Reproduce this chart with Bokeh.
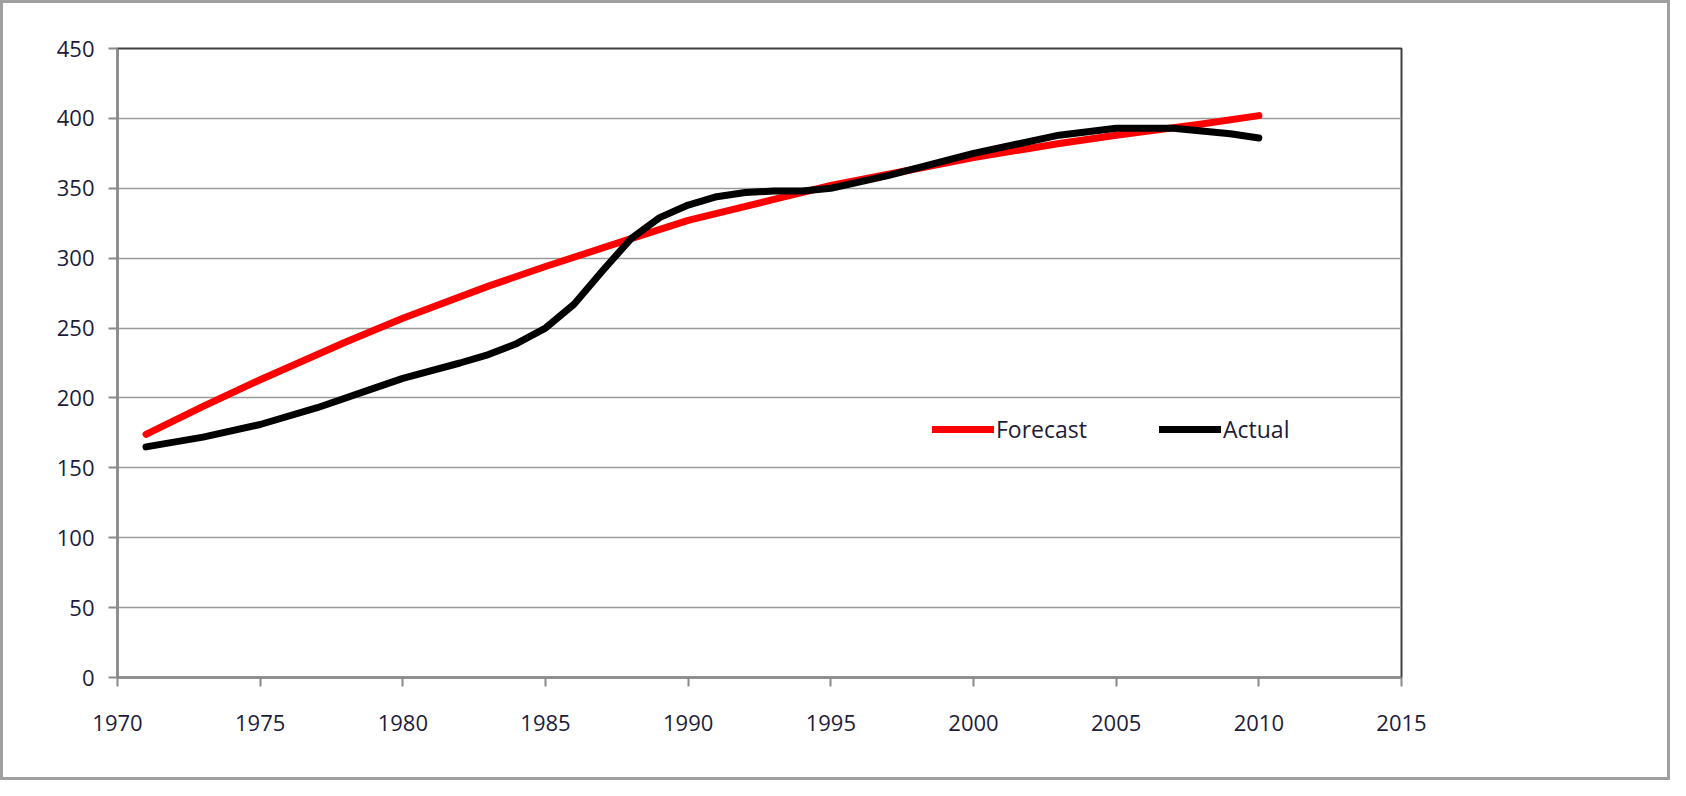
from bokeh.plotting import figure
from bokeh.embed import file_html
from bokeh.resources import INLINE
from bokeh.models import Legend, Range1d, SingleIntervalTicker

forecast_years = [1971, 1973, 1975, 1978, 1980, 1983, 1985, 1988, 1990, 1993, 1995, 1998, 2000, 2003, 2005, 2008, 2010]
forecast_vals = [174, 194, 213, 240, 257, 280, 294, 314, 327, 342, 352, 364, 372, 382, 388, 396, 402]

actual_years = [1971, 1973, 1975, 1977, 1979, 1980, 1982, 1983, 1984, 1985, 1986, 1987, 1988, 1989, 1990, 1991, 1992, 1993, 1994, 1995, 1997, 2000, 2003, 2005, 2007, 2009, 2010]
actual_vals = [165, 172, 181, 193, 207, 214, 225, 231, 239, 250, 267, 291, 314, 329, 338, 344, 347, 348, 348, 350, 359, 375, 388, 393, 393, 389, 386]

FONT = "Open Sans"
TXT = "#1c1c3a"

p = figure(width=1670, height=780, output_backend="svg", toolbar_location=None,
           x_range=Range1d(1970, 2015), y_range=Range1d(0, 450),
           min_border_left=114, min_border_top=45, min_border_right=272, min_border_bottom=106)
p.styles = {"border": "3px solid #a0a0a0", "box-sizing": "border-box"}

p.xaxis.ticker = SingleIntervalTicker(interval=5)
p.yaxis.ticker = SingleIntervalTicker(interval=50)
p.xgrid.visible = False
p.ygrid.grid_line_color = "#9a9a9a"
p.ygrid.grid_line_width = 1.5
p.outline_line_color = "#404040"
p.outline_line_width = 2

for ax in (p.xaxis, p.yaxis):
    ax.axis_line_color = "#8a8a8a"
    ax.axis_line_width = 2
    ax.major_tick_line_color = "#8a8a8a"
    ax.major_tick_line_width = 2
    ax.major_tick_out = 9
    ax.major_tick_in = 0
    ax.minor_tick_line_color = None
    ax.major_label_text_font = FONT
    ax.major_label_text_font_size = "22px"
    ax.major_label_text_color = TXT
p.xaxis.major_label_standoff = 28
p.yaxis.major_label_standoff = 14

r1 = p.line(forecast_years, forecast_vals, line_color="#ff0000", line_width=7, line_join="round", line_cap="round")
r2 = p.line(actual_years, actual_vals, line_color="#000000", line_width=7, line_join="round", line_cap="round")

legend = Legend(items=[("Forecast", [r1]), ("Actual", [r2])], orientation="horizontal",
                location=(815, 232), border_line_color=None, background_fill_alpha=0,
                label_text_font=FONT, label_text_font_size="23px", label_text_color=TXT,
                glyph_width=62, spacing=72, label_standoff=2, padding=0, margin=0)
p.add_layout(legend, "center")

open("out.html", "w").write(file_html(p, INLINE))
